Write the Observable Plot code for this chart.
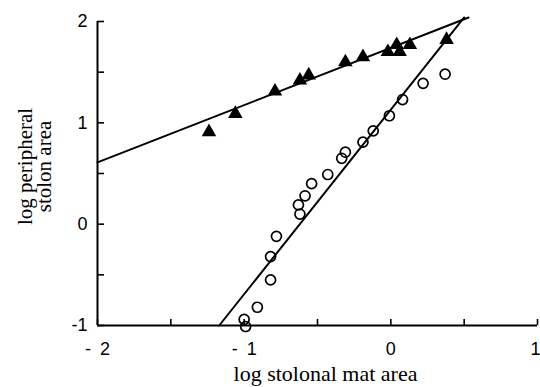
<!DOCTYPE html>
<html><head><meta charset="utf-8">
<script src="https://cdn.jsdelivr.net/npm/d3@7"></script>
<script src="https://cdn.jsdelivr.net/npm/@observablehq/plot@0.6"></script>
<style>body{margin:0;background:#fff}</style>
</head><body><div id="chart"></div>
<script>
// Filled triangles (peripheral stolon area vs stolonal mat area)
const triX = [-1.24, -1.06, -0.79, -0.62, -0.56, -0.31, -0.19, -0.02, 0.04, 0.06, 0.13, 0.38];
const triY = [0.91, 1.09, 1.31, 1.42, 1.47, 1.60, 1.65, 1.70, 1.77, 1.70, 1.77, 1.82];
// Open circles
const circX = [-0.99, -1.00, -0.91, -0.82, -0.82, -0.78, -0.62, -0.63, -0.585, -0.54, -0.43, -0.335, -0.31, -0.19, -0.12, -0.01, 0.08, 0.22, 0.37];
const circY = [-1.01, -0.94, -0.82, -0.55, -0.32, -0.12, 0.10, 0.19, 0.28, 0.40, 0.49, 0.65, 0.71, 0.81, 0.92, 1.07, 1.23, 1.39, 1.48];
// Fitted lines (endpoints)
const triLineX = [-2, 0.53];
const triLineY = [0.61, 2.04];
const circLineX = [-1.17, 0.50];
const circLineY = [-1, 2.04];
// Ticks
const xTickLabels = [-2, -1, 0];
const xTickLabelsEnd = [1];
const xTickMarks = [-2, -1.5, -1, -0.5, 0, 0.5, 1];
const yTickLabels = [-1, 0, 1, 2];
const yTickMarks = [-1, -0.5, 0, 0.5, 1, 1.5, 2];
const xTitle = "log stolonal mat area";
const yTitle = "log peripheral\nstolon area";

const tri = triX.map((x, i) => ({x, y: triY[i]}));
const circ = circX.map((x, i) => ({x, y: circY[i]}));
const triLine = triLineX.map((x, i) => ({x, y: triLineY[i]}));
const circLine = circLineX.map((x, i) => ({x, y: circLineY[i]}));

const W = 540, H = 387, ML = 97, MR = 3, MT = 21, MB = 62;
const frameW = W - ML - MR, frameH = H - MT - MB;
const serif = "'Liberation Serif', 'Times New Roman', serif";
const fmtX = d => d < 0 ? "-\u2002" + (-d) : String(d);

const chart = Plot.plot({
  width: W, height: H,
  marginLeft: ML, marginRight: MR, marginTop: MT, marginBottom: MB,
  x: {domain: [-2, 1]},
  y: {domain: [-1, 2]},
  style: {fontFamily: "'Liberation Sans', Arial, sans-serif", fontSize: "18px", color: "#000", background: "#fff"},
  marks: [
    Plot.ruleY([-1], {stroke: "#000", strokeWidth: 2}),
    Plot.ruleX([-2], {stroke: "#000", strokeWidth: 2}),
    Plot.tickX(xTickMarks, {x: d => d, insetTop: frameH - 6, stroke: "#000", strokeWidth: 1.6}),
    Plot.tickY(yTickMarks, {y: d => d, insetRight: frameW - 7, stroke: "#000", strokeWidth: 1.6}),
    Plot.axisX({ticks: xTickLabels, tickSize: 0, tickPadding: 17, label: null, tickFormat: fmtX, fontSize: 18}),
    Plot.axisX({ticks: xTickLabelsEnd, tickSize: 0, tickPadding: 17, label: null, tickFormat: fmtX, fontSize: 18,
      textAnchor: "end", dx: 3}),
    Plot.axisY({ticks: yTickLabels, tickSize: 0, tickPadding: 10, label: null,
      tickFormat: d => String(d), fontSize: 18}),
    Plot.line(triLine, {x: "x", y: "y", stroke: "#000", strokeWidth: 2}),
    Plot.line(circLine, {x: "x", y: "y", stroke: "#000", strokeWidth: 2}),
    Plot.dot(tri, {x: "x", y: "y", symbol: "triangle", r: 5.4, fill: "#000", stroke: "none"}),
    Plot.dot(circ, {x: "x", y: "y", r: 5, fill: "none", stroke: "#000", strokeWidth: 1.7}),
    Plot.text([xTitle], {text: d => d, frameAnchor: "bottom", dy: 48, dx: 8, lineAnchor: "middle",
      fontFamily: serif, fontSize: 22, fill: "#000", style: "letter-spacing:0.8px"}),
    Plot.text([yTitle], {text: d => d, frameAnchor: "left", rotate: -90, dx: -62, dy: -7, textAnchor: "middle",
      lineAnchor: "middle", lineHeight: 0.92, fontFamily: serif, fontSize: 21, fill: "#000"})
  ]
});
document.getElementById("chart").appendChild(chart);
</script>
</body></html>
